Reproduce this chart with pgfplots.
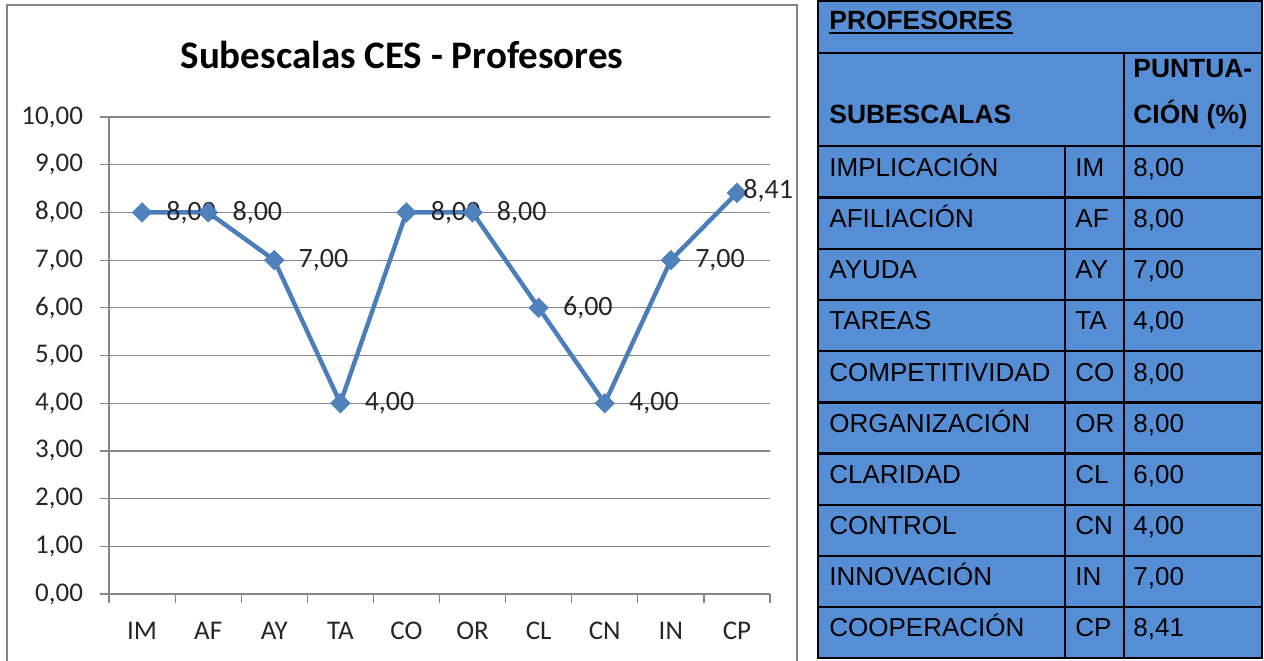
\documentclass[border=0pt]{standalone}
\usepackage{fontspec}
\setmainfont{Carlito}
\newfontfamily\arialfont{Liberation Sans}
\usepackage{pgfplots}
\pgfplotsset{compat=1.18}
\definecolor{serie}{HTML}{4A7EBB}
\definecolor{seriefill}{HTML}{4F81BD}
\definecolor{rejilla}{HTML}{868686}
\definecolor{tabla}{HTML}{558ED5}

\begin{document}
\begin{tikzpicture}
\useasboundingbox (0,0) rectangle (632pt,-330pt);
% marco del grafico
\draw[rejilla, line width=1.4pt] (3.5pt,-340pt) -- (3.5pt,-2.5pt) -- (398.5pt,-2.5pt) -- (398.5pt,-340pt);
\node[anchor=base, font=\bfseries\fontsize{19.5}{22}\selectfont] at (201pt,-34pt) {Subescalas CES - Profesores};

\begin{axis}[
  at={(54.5pt,-297pt)}, anchor=south west,
  scale only axis, width=330.5pt, height=238.5pt,
  xmin=-0.5, xmax=9.5, ymin=0, ymax=10,
  axis lines*=left,
  axis line style={rejilla, line width=0.6pt},
  xtick={0,...,9},
  xticklabels={IM,AF,AY,TA,CO,OR,CL,CN,IN,CP},
  major x tick style={draw=none},
  minor xtick={-0.5,0.5,...,9.5},
  minor x tick style={rejilla, line width=0.6pt},
  ytick={0,...,10},
  y tick style={rejilla, line width=0.6pt},
  tick align=outside,
  major tick length=4.5pt, minor tick length=4.5pt,
  ymajorgrids,
  grid style={rejilla, line width=0.6pt},
  tick label style={font=\fontsize{13.5}{15}\selectfont, text=black!85},
  xticklabel style={yshift=-6pt},
  yticklabel style={xshift=-5pt, /pgf/number format/.cd, fixed, fixed zerofill, precision=2, use comma, assume math mode=true},
  /pgf/number format/.cd, fixed, fixed zerofill, precision=2, use comma, assume math mode=true,
]
\addplot[serie, line width=2.2pt, mark=none] coordinates {
  (0,8) (1,8) (2,7) (3,4) (4,8) (5,8) (6,6) (7,4) (8,7) (9,8.41)
};
\addplot[only marks, mark=square*, mark size=3.4pt,
  mark options={rotate=45, fill=seriefill, draw=seriefill},
  nodes near coords, point meta=y,
  every node near coord/.append style={anchor=west, inner sep=0pt, xshift=12pt, font=\fontsize{14}{16}\selectfont, text=black!85}]
  coordinates {
  (0,8) (1,8) (2,7) (3,4) (4,8) (5,8) (6,6) (7,4) (8,7)
};
\addplot[only marks, mark=square*, mark size=3.4pt,
  mark options={rotate=45, fill=seriefill, draw=seriefill},
  nodes near coords, point meta=y,
  every node near coord/.append style={anchor=west, inner sep=0pt, xshift=3pt, yshift=1pt, font=\fontsize{14}{16}\selectfont, text=black!85}]
  coordinates {
  (9,8.41)
};
\end{axis}

% tabla
\begin{scope}[x=0.5pt, y=-0.5pt, every node/.style={anchor=base west, inner sep=0pt, font=\arialfont\fontsize{13}{15}\selectfont}]
\fill[tabla] (818,1) rectangle (1262,658);
\draw[black, line width=1.2pt] (818,1) rectangle (1262,658);
\foreach \y in {53,146,197.5,248.7,299.9,351.1,402.3,453.5,504.7,555.9,607.1}
  \draw[black, line width=1.2pt] (818,\y) -- (1262,\y);
\draw[black, line width=1.2pt] (1124,53) -- (1124,658);
\draw[black, line width=1.2pt] (1065,146) -- (1065,658);
\node[font=\arialfont\bfseries\fontsize{13.2}{15}\selectfont] at (829,29) {PROFESORES};
\draw[black, line width=0.8pt] (829,33) -- (1013,33);
\node[font=\arialfont\bfseries\fontsize{13.2}{15}\selectfont] at (829,123) {SUBESCALAS};
\node[font=\arialfont\bfseries\fontsize{13.2}{15}\selectfont] at (1133,77) {PUNTUA-};
\node[font=\arialfont\bfseries\fontsize{13.2}{15}\selectfont] at (1133,123) {CIÓN (\%)};
\node at (829,176) {IMPLICACIÓN};   \node at (1075,176) {IM}; \node at (1133,176) {8,00};
\node at (829,227) {AFILIACIÓN};    \node at (1075,227) {AF}; \node at (1133,227) {8,00};
\node at (829,278) {AYUDA};         \node at (1075,278) {AY}; \node at (1133,278) {7,00};
\node at (829,329) {TAREAS};        \node at (1075,329) {TA}; \node at (1133,329) {4,00};
\node at (829,381) {COMPETITIVIDAD};\node at (1075,381) {CO}; \node at (1133,381) {8,00};
\node at (829,432) {ORGANIZACIÓN};  \node at (1075,432) {OR}; \node at (1133,432) {8,00};
\node at (829,483) {CLARIDAD};      \node at (1075,483) {CL}; \node at (1133,483) {6,00};
\node at (829,534) {CONTROL};       \node at (1075,534) {CN}; \node at (1133,534) {4,00};
\node at (829,585) {INNOVACIÓN};    \node at (1075,585) {IN}; \node at (1133,585) {7,00};
\node at (829,636) {COOPERACIÓN};   \node at (1075,636) {CP}; \node at (1133,636) {8,41};
\end{scope}
\end{tikzpicture}
\end{document}
